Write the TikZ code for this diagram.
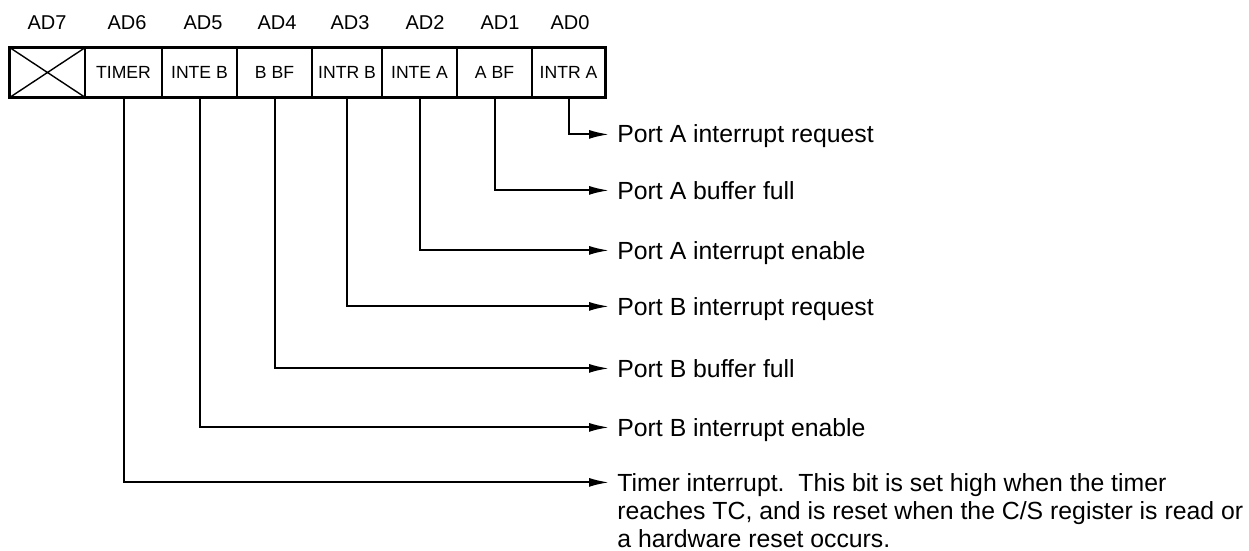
\documentclass[tikz,border=0pt]{standalone}
\usepackage{fontspec}
\setmainfont{Liberation Sans}
\usepackage{tikz}
\usetikzlibrary{arrows.meta,positioning}

\tikzset{
	bitcell/.style={draw,line width=0.8pt,minimum height=24.5pt,inner sep=0pt,font=\fontsize{8.8}{10}\selectfont},
	bitname/.style={inner sep=0pt,font=\fontsize{10}{12}\selectfont},
	bitdesc/.style={anchor=base west,inner sep=0pt,font=\fontsize{12.4}{14}\selectfont},
	bitline/.style={line width=1pt,-{Latex[length=10pt,width=4.5pt]},shorten >=4pt},
}

\begin{document}
\begin{tikzpicture}[x=0.5pt,y=-0.5pt]
				%\draw[color=gray,step=10,help lines,opacity=0.3] (0,0) grid (1249,551); %help grids
				\useasboundingbox (0,0) rectangle (1249,551);
				\node[bitcell,minimum width=37.5pt] (ad7) at (47.5,72.5) {};
				\node[bitcell,minimum width=38.5pt] (ad6) at (123.5,72.5) {TIMER};
				\node[bitcell,minimum width=37.5pt] (ad5) at (199.5,72.5) {INTE B};
				\node[bitcell,minimum width=37.5pt] (ad4) at (274.5,72.5) {B BF};
				\node[bitcell,minimum width=35pt] (ad3) at (347,72.5) {INTR B};
				\node[bitcell,minimum width=37.5pt] (ad2) at (419.5,72.5) {INTE A};
				\node[bitcell,minimum width=37.5pt] (ad1) at (494.5,72.5) {A BF};
				\node[bitcell,minimum width=36.5pt] (ad0) at (568.5,72.5) {INTR A};
				\draw[line width=1.5pt] (ad7.north west) rectangle (ad0.south east);
				\draw[line width=0.7pt] (ad7.north west) -- (ad7.south east) (ad7.south west) -- (ad7.north east);
				\node[bitname] (n7) at (47,23) {AD7};
				\node[bitname] (n6) at (127,23) {AD6};
				\node[bitname] (n5) at (203,23) {AD5};
				\node[bitname] (n4) at (277,23) {AD4};
				\node[bitname] (n3) at (350,23) {AD3};
				\node[bitname] (n2) at (425,23) {AD2};
				\node[bitname] (n1) at (500,23) {AD1};
				\node[bitname] (n0) at (570,23) {AD0};
				\node[bitdesc] (d0) at (617,143) {Port A interrupt request};
				\node[bitdesc] (d1) at (617,199) {Port A buffer full};
				\node[bitdesc] (d2) at (617,259) {Port A interrupt enable};
				\node[bitdesc] (d3) at (617,315) {Port B interrupt request};
				\node[bitdesc] (d4) at (617,377) {Port B buffer full};
				\node[bitdesc] (d5) at (617,436) {Port B interrupt enable};
				\node[bitdesc] (d6) at (617,491) {\parbox[t]{316pt}{\raggedright Timer interrupt.\ \ This bit is set high when the timer\\reaches TC, and is reset when the C/S register is read or\\a hardware reset occurs.}};
				\draw[bitline] (ad0.south) |- ([yshift=4.3pt]d0.base west);
				\draw[bitline] (ad1.south) |- ([yshift=4.3pt]d1.base west);
				\draw[bitline] (ad2.south) |- ([yshift=4.3pt]d2.base west);
				\draw[bitline] (ad3.south) |- ([yshift=4.3pt]d3.base west);
				\draw[bitline] (ad4.south) |- ([yshift=4.3pt]d4.base west);
				\draw[bitline] (ad5.south) |- ([yshift=4.3pt]d5.base west);
				\draw[bitline] (ad6.south) |- ([yshift=4.3pt]d6.base west);
\end{tikzpicture}
\end{document}
